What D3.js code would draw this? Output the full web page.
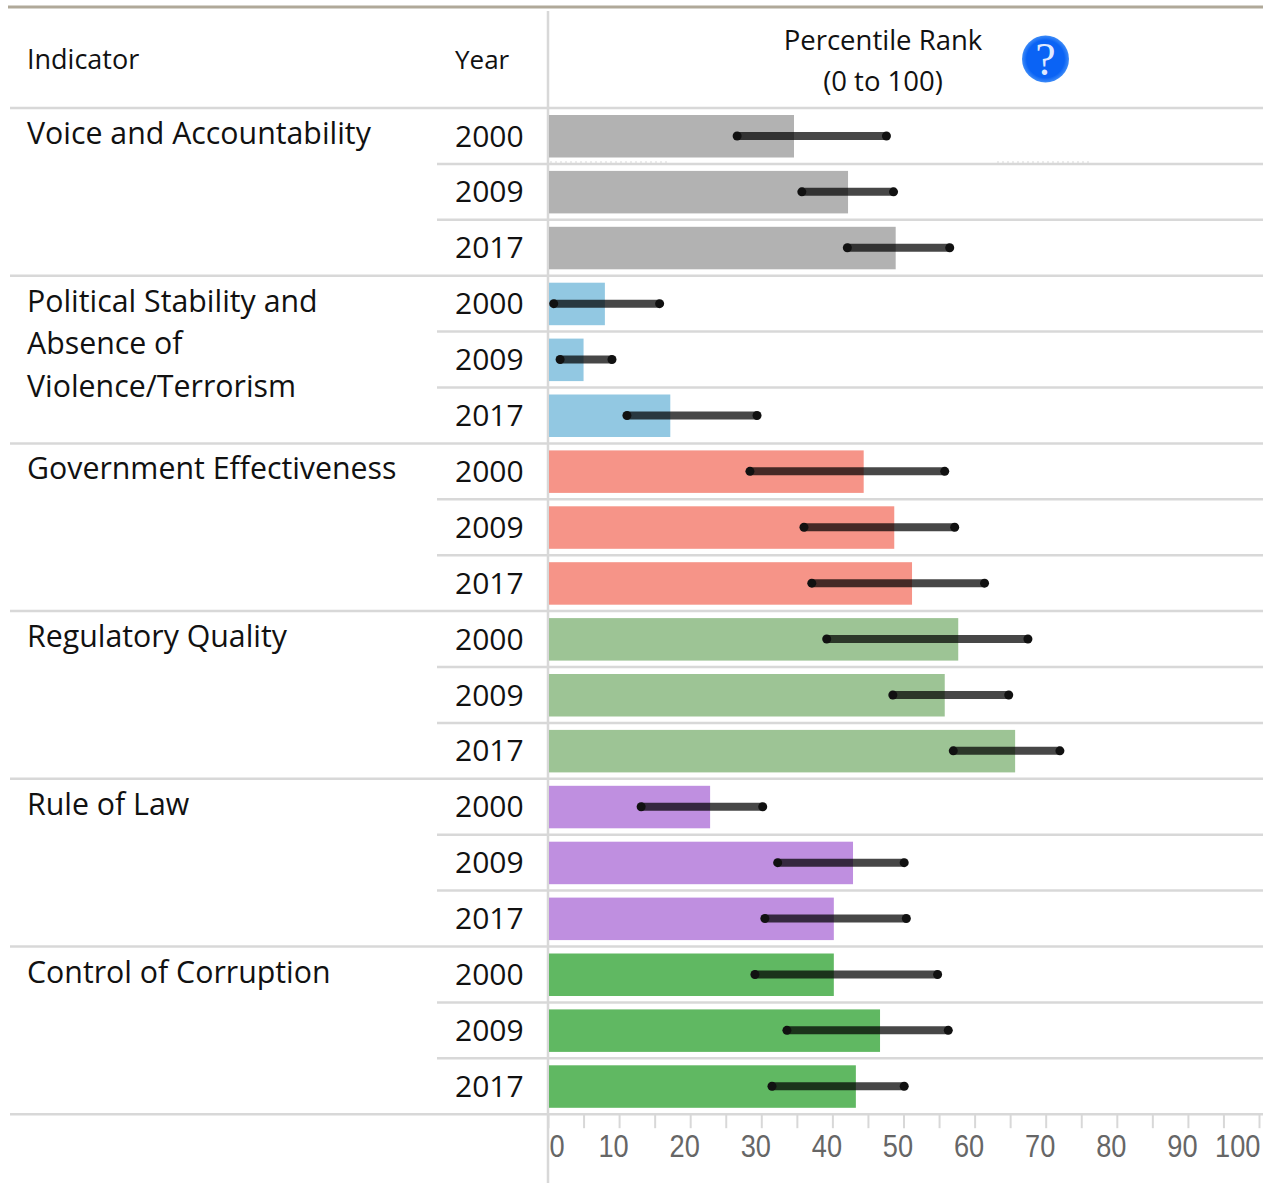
<!DOCTYPE html>
<html lang="en">
<head>
<meta charset="UTF-8">
<title>Percentile Rank by Indicator</title>
<style>
    html, body { margin: 0; padding: 0; background: #fff; }
    svg { display: block; }
    text { font-family: "Open Sans", "Noto Sans", sans-serif; fill: #111; }
    .x-axis text { font-family: "Liberation Sans", Arial, sans-serif; fill: #666; font-size: 32px; }
    .x-axis path { display: none; }
    .x-axis line { stroke: #d8d8d8; stroke-width: 2; }
</style>
</head>
<body>
<svg id="chart" width="1263" height="1183"></svg>
<script src="https://d3js.org/d3.v7.min.js"></script>
<script>
const indicators = [
    ['Voice and Accountability'],
    ['Political Stability and', 'Absence of', 'Violence/Terrorism'],
    ['Government Effectiveness'],
    ['Regulatory Quality'],
    ['Rule of Law'],
    ['Control of Corruption']
];
const years = [2000, 2009, 2017];
const colors = ['#b2b2b2', '#92c8e2', '#f69488', '#9dc495', '#bf8fe0', '#60b862'];
// percentile rank per indicator, one value per year
const ranks = [
    [34.6, 42.2, 48.9],
    [8.0, 5.0, 17.2],
    [44.4, 48.7, 51.2],
    [57.7, 55.8, 65.7],
    [22.8, 42.9, 40.2],
    [40.2, 46.7, 43.3]
];
const lower = [
    [26.6, 35.7, 42.1],
    [0.8, 1.7, 11.1],
    [28.4, 36.0, 37.1],
    [39.2, 48.5, 57.0],
    [13.1, 32.3, 30.5],
    [29.1, 33.6, 31.5]
];
const upper = [
    [47.6, 48.6, 56.5],
    [15.7, 9.0, 29.4],
    [55.8, 57.2, 61.4],
    [67.5, 64.8, 72.0],
    [30.2, 50.1, 50.4],
    [54.8, 56.3, 50.1]
];
const axisTicks = d3.range(0, 101, 5);

const svg = d3.select('#chart');
const rowTop = 108, rowH = 55.9, rightEdge = 1263;
const x = d3.scaleLinear().domain([0, 100]).range([548, 1259]);
const y = d3.scaleBand()
    .domain(d3.range(indicators.length * years.length))
    .range([rowTop, rowTop + rowH * 18]);

const rows = [];
indicators.forEach((names, i) => {
    years.forEach((year, j) => {
        rows.push({ i, j, year, rank: ranks[i][j], lo: lower[i][j], hi: upper[i][j] });
    });
});

// frame lines
svg.append('line').attr('x1', 8).attr('x2', rightEdge).attr('y1', 7).attr('y2', 7)
    .attr('stroke', '#b0a999').attr('stroke-width', 3);
svg.append('line').attr('x1', 548).attr('x2', 548).attr('y1', 11).attr('y2', 1183)
    .attr('stroke', '#d8d8d8').attr('stroke-width', 2.5);

svg.selectAll('.row-line').data(d3.range(19)).enter().append('line')
    .attr('class', 'row-line')
    .attr('x1', d => d % 3 === 0 ? 10 : 437)
    .attr('x2', rightEdge)
    .attr('y1', d => rowTop + d * rowH)
    .attr('y2', d => rowTop + d * rowH)
    .attr('stroke', '#d8d8d8').attr('stroke-width', 2.5);

// faint dotted remnants under the first row
[[550, 670], [997, 1090]].forEach(s => {
    svg.append('line').attr('x1', s[0]).attr('x2', s[1]).attr('y1', 162).attr('y2', 162)
        .attr('stroke', '#d8d8d8').attr('stroke-width', 1).attr('stroke-dasharray', '2 3');
});

// header
svg.append('text').attr('x', 27).attr('y', 69).attr('font-size', 27).text('Indicator');
svg.append('text').attr('x', 455).attr('y', 69).attr('font-size', 26).text('Year');
svg.append('text').attr('x', 883).attr('y', 50).attr('font-size', 27.5).attr('text-anchor', 'middle').text('Percentile Rank');
svg.append('text').attr('x', 883).attr('y', 91).attr('font-size', 27.5).attr('text-anchor', 'middle').text('(0 to 100)');

const grad = svg.append('defs').append('radialGradient').attr('id', 'help');
grad.append('stop').attr('offset', '80%').attr('stop-color', '#0a63f5');
grad.append('stop').attr('offset', '100%').attr('stop-color', '#3f8cf7');
svg.append('circle').attr('cx', 1045.5).attr('cy', 59).attr('r', 23.5).attr('fill', 'url(#help)');
svg.append('text').attr('x', 1045.5).attr('y', 75).attr('text-anchor', 'middle')
    .attr('font-size', 46).style('font-family', '"Liberation Serif", serif')
    .style('fill', '#dfe9ff').text('?');

// indicator names
indicators.forEach((names, i) => {
    names.forEach((line, k) => {
        svg.append('text').attr('x', 27)
            .attr('y', y(i * 3) + 36 + k * 42.6)
            .attr('font-size', 30.3)
            .text(line);
    });
});

// years
svg.selectAll('.year').data(rows).enter().append('text')
    .attr('class', 'year')
    .attr('x', 455)
    .attr('y', (d, n) => y(n) + 38.5)
    .attr('font-size', 30)
    .text(d => d.year);

// bars
svg.selectAll('.bar').data(rows).enter().append('rect')
    .attr('class', 'bar')
    .attr('x', x(0) + 1)
    .attr('y', (d, n) => y(n) + 7)
    .attr('width', d => x(d.rank) - x(0) - 1)
    .attr('height', 42.5)
    .attr('fill', d => colors[d.i]);

// uncertainty ranges
const mid = n => y(n) + y.bandwidth() / 2;
svg.selectAll('.range').data(rows).enter().append('line')
    .attr('class', 'range')
    .attr('x1', d => x(d.lo)).attr('x2', d => x(d.hi))
    .attr('y1', (d, n) => mid(n)).attr('y2', (d, n) => mid(n))
    .attr('stroke', '#000').attr('stroke-opacity', 0.72).attr('stroke-width', 8);
svg.selectAll('.cap').data(rows.flatMap((d, n) => [{ v: d.lo, n }, { v: d.hi, n }])).enter().append('ellipse')
    .attr('class', 'cap')
    .attr('cx', d => x(d.v)).attr('cy', d => mid(d.n))
    .attr('rx', 4.5).attr('ry', 4.5)
    .attr('fill', '#111');

// axis
const axis = svg.append('g').attr('class', 'x-axis')
    .attr('transform', `translate(0,${rowTop + rowH * 18})`)
    .call(d3.axisBottom(x).tickValues(axisTicks).tickSize(14).tickPadding(10)
        .tickFormat(d => d % 10 === 0 ? d : ''));
// labels are tall and narrow in the original
axis.selectAll('.tick text')
    .attr('text-anchor', d => d === 0 ? 'start' : d === 100 ? 'end' : 'middle')
    .attr('y', 0)
    .attr('transform', d => `translate(${d === 0 ? 1 : d === 100 ? 1 : -6},20) scale(0.85,1)`);
</script>
</body>
</html>
